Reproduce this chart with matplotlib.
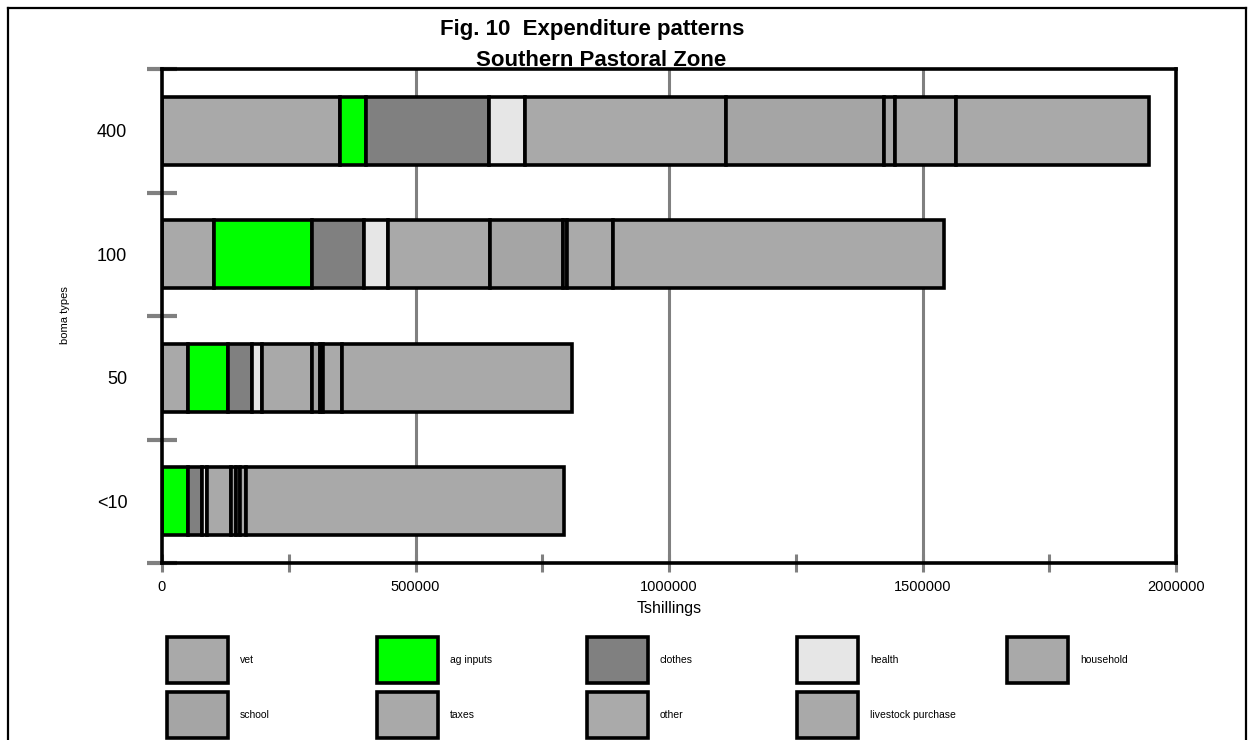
import matplotlib
matplotlib.use("Agg")
import matplotlib.pyplot as plt
from matplotlib.patches import Rectangle
from matplotlib.lines import Line2D
import numpy as np

plt.rcParams['font.family'] = ['Liberation Sans', 'DejaVu Sans']

# ---- data ----
boma_types = ["<10", "50", "100", "400"]
categories = ["vet", "ag inputs", "clothes", "health", "household",
              "school", "taxes", "other", "livestock purchase"]
colors = ["#a9a9a9", "#00ff00", "#808080", "#e6e6e6", "#a9a9a9",
          "#a5a5a5", "#a9a9a9", "#aaaaaa", "#a9a9a9"]

# values per boma type (<10, 50, 100, 400), Tshillings
vet        = [0,      51000,  103000, 352000]
ag_inputs  = [51000,  79000,  193000, 51000]
clothes    = [28000,  47000,  103000, 241000]
health     = [10000,  20000,  47000,  71000]
household  = [47000,  99000,  201000, 398000]
school     = [10000,  16000,  144000, 312000]
taxes      = [8000,   6000,   8000,   20000]
other      = [12000,  37000,  91000,  122000]
livestock  = [627000, 454000, 653000, 379000]

series = [vet, ag_inputs, clothes, health, household, school, taxes, other, livestock]

x_major = [0, 500000, 1000000, 1500000, 2000000]
x_minor = [250000, 750000, 1250000, 1750000]

W, H = 1254, 740
fig = plt.figure(figsize=(W / 100, H / 100), dpi=100)

# titles (subtitle sits under the top axis line)
fig.text(592 / W, 1 - 30 / H, "Fig. 10  Expenditure patterns", fontsize=16,
         fontweight="bold", ha="center", va="center", zorder=-1)
fig.text(601 / W, 1 - 61 / H, "Southern Pastoral Zone", fontsize=16,
         fontweight="bold", ha="center", va="center", zorder=-1)

ax = fig.add_axes([162 / W, 1 - 563 / H, (1176 - 162) / W, (563 - 69) / H])
ax.set_zorder(1)

y = np.arange(len(boma_types))
left = np.zeros(len(boma_types))
for vals, col, name in zip(series, colors, categories):
    ax.barh(y, vals, left=left, height=0.55, color=col, edgecolor="black",
            linewidth=2.6, label=name, zorder=3)
    left += np.array(vals)

ax.set_xlim(0, 2000000)
ax.set_ylim(-0.5, len(boma_types) - 0.5)

# gridlines
for gx in x_major[1:-1]:
    ax.axvline(gx, color="#808080", lw=2.2, zorder=1)

# x ticks
ax.set_xticks(x_major)
ax.set_xticklabels([str(v) for v in x_major], fontsize=10.5)
ax.set_xticks(x_minor, minor=True)
ax.tick_params(axis="x", which="both", direction="inout", length=13, width=2.2,
               color="#808080", pad=6)

# y ticks: boundaries (major, unlabeled), centers (minor, labeled)
ax.set_yticks(np.arange(-0.5, len(boma_types), 1.0))
ax.set_yticklabels([])
ax.tick_params(axis="y", which="major", direction="inout", length=22, width=3,
               color="#808080")
ax.set_yticks(y, minor=True)
ax.set_yticklabels(boma_types, minor=True, fontsize=13)
ax.tick_params(axis="y", which="minor", length=0, pad=25)

for s in ax.spines.values():
    s.set_linewidth(2.6)
    s.set_color("black")
    s.set_zorder(4)

ax.set_xlabel("Tshillings", fontsize=11.5, labelpad=5)
fig.text(65 / W, 1 - 315 / H, "boma types", rotation=90, fontsize=8,
         ha="center", va="center")

# legend (row-major, 5 per row)
col_x = [167, 377, 587, 797, 1007]
row_y = [637, 692]
bw, bh = 61, 46
for i, (name, col) in enumerate(zip(categories, colors)):
    r, c = divmod(i, 5)
    x0 = col_x[c]
    y0 = row_y[r]
    fig.patches.append(Rectangle((x0 / W, 1 - (y0 + bh) / H), bw / W, bh / H,
                                 transform=fig.transFigure, facecolor=col,
                                 edgecolor="black", linewidth=2.6))
    fig.text((x0 + bw + 12) / W, 1 - (y0 + bh / 2) / H, name, fontsize=7.5,
             ha="left", va="center")

# outer frame (left, top, right)
fr = dict(color="black", lw=1.6, transform=fig.transFigure)
fig.add_artist(Line2D([8 / W, 8 / W], [0, 1 - 8 / H], **fr))
fig.add_artist(Line2D([8 / W, 1246 / W], [1 - 8 / H, 1 - 8 / H], **fr))
fig.add_artist(Line2D([1246 / W, 1246 / W], [0, 1 - 8 / H], **fr))

fig.savefig("out.png", dpi=100)
